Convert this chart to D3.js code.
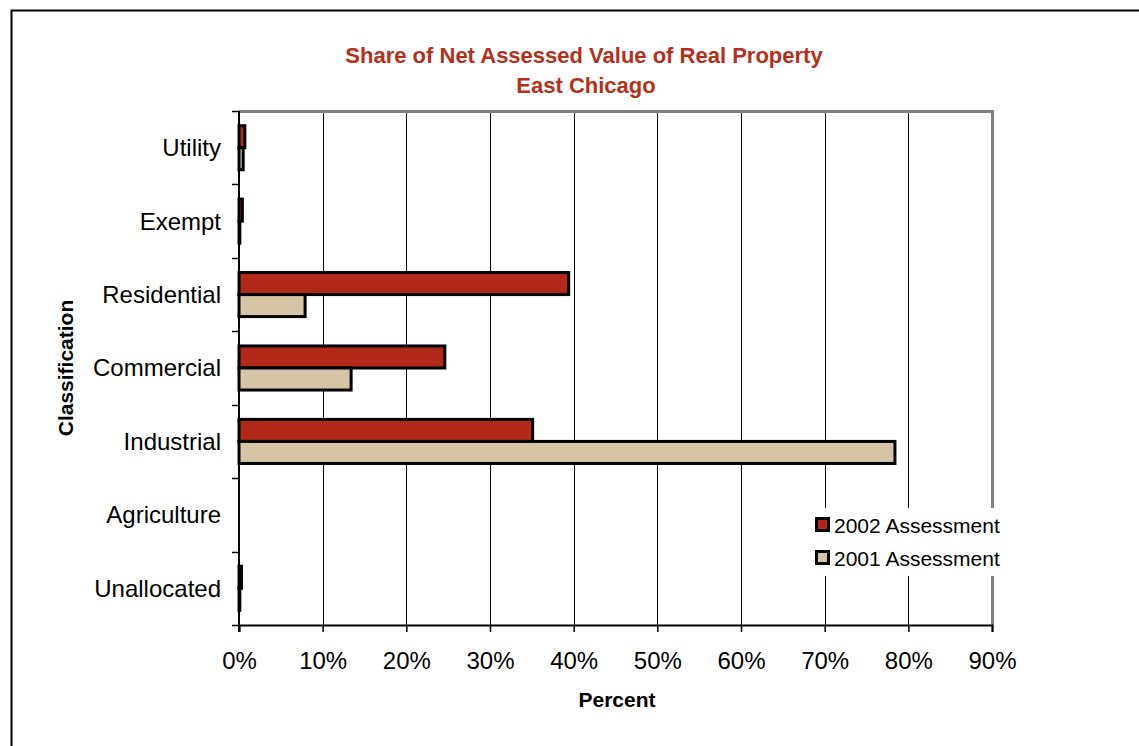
<!DOCTYPE html>
<html>
<head>
<meta charset="utf-8">
<script src="https://cdn.jsdelivr.net/npm/d3@7"></script>
<style>
  body { margin: 0; background: #fff; }
  text { font-family: "Liberation Sans", Arial, sans-serif; }
</style>
</head>
<body>
<div id="chart"></div>
<script>
// data
const CATEGORIES = ["Utility", "Exempt", "Residential", "Commercial", "Industrial", "Agriculture", "Unallocated"];
const SERIES = ["2002 Assessment", "2001 Assessment"];
const VALUES_2002 = [0.7, 0.4, 39.4, 24.6, 35.1, 0, 0.3];
const VALUES_2001 = [0.5, 0.1, 7.9, 13.4, 78.4, 0, 0.1];
const X_TICKS = [0, 10, 20, 30, 40, 50, 60, 70, 80, 90];
const COLORS = ["#B22A17", "#D5C4A6"];

const WIDTH = 1139;
const HEIGHT = 746;
const LEFT = 239, RIGHT = 992, TOP = 111, BOTTOM = 625;

const svg = d3.select('#chart')
  .append('svg')
  .attr('width', WIDTH)
  .attr('height', HEIGHT);

// outer frame (only top and left edges show)
svg.append('rect')
  .attr('x', 11.5).attr('y', 10.5)
  .attr('width', WIDTH + 20).attr('height', HEIGHT + 20)
  .attr('fill', 'none')
  .attr('stroke', '#000')
  .attr('stroke-width', 2);

const X_SCALE = d3.scaleLinear().domain([0, 90]).range([LEFT, RIGHT]);
const Y_SCALE = d3.scaleBand()
  .domain(CATEGORIES)
  .range([TOP, BOTTOM])
  .paddingInner(0.4)
  .paddingOuter(0.2);
const SUB_SCALE = d3.scaleBand().domain(SERIES).range([0, Y_SCALE.bandwidth()]);
const Y_EDGES = d3.scaleLinear().domain([0, CATEGORIES.length]).range([TOP, BOTTOM]);

// gridlines
svg.append('g')
  .selectAll('line')
  .data(X_TICKS.slice(1, -1))
  .enter()
  .append('line')
  .attr('x1', d => Math.round(X_SCALE(d)) + 0.5)
  .attr('x2', d => Math.round(X_SCALE(d)) + 0.5)
  .attr('y1', TOP)
  .attr('y2', BOTTOM)
  .attr('stroke', '#000')
  .attr('stroke-width', 1);

// plot border top/right (grey)
svg.append('path')
  .attr('d', `M${LEFT},${TOP + 0.5}H${RIGHT + 0.5}V${BOTTOM}`)
  .attr('fill', 'none')
  .attr('stroke', '#808080')
  .attr('stroke-width', 3);

// bars
const rows = CATEGORIES.map((c, i) => ({ cat: c, vals: [VALUES_2002[i], VALUES_2001[i]] }));
const groups = svg.append('g')
  .selectAll('g')
  .data(rows)
  .enter()
  .append('g')
  .attr('transform', d => 'translate(0,' + Y_SCALE(d.cat) + ')');

groups.selectAll('rect')
  .data(d => d.vals.map((v, j) => ({ v: v, s: SERIES[j], j: j })))
  .enter()
  .filter(d => d.v > 0)
  .append('rect')
  .attr('x', X_SCALE(0))
  .attr('y', d => SUB_SCALE(d.s))
  .attr('width', d => X_SCALE(d.v) - X_SCALE(0))
  .attr('height', SUB_SCALE.bandwidth())
  .attr('fill', d => COLORS[d.j])
  .attr('stroke', '#000')
  .attr('stroke-width', 3);

// x axis
const X_AXIS = d3.axisBottom(X_SCALE)
  .tickValues(X_TICKS)
  .tickSize(7)
  .tickFormat(d => d + '%');
const gx = svg.append('g')
  .attr('transform', 'translate(0,' + BOTTOM + ')')
  .call(X_AXIS);
gx.select('.domain').attr('stroke', '#000').attr('stroke-width', 2);
gx.selectAll('.tick line').attr('stroke', '#000').attr('stroke-width', 1.5);
gx.selectAll('.tick text')
  .attr('font-size', 24)
  .attr('font-family', '"Liberation Sans", Arial, sans-serif')
  .attr('fill', '#000')
  .attr('dy', 0)
  .attr('y', 44);

// y axis: line + ticks at category boundaries
svg.append('line')
  .attr('x1', LEFT).attr('x2', LEFT)
  .attr('y1', TOP).attr('y2', BOTTOM + 7)
  .attr('stroke', '#000').attr('stroke-width', 2);
svg.append('g')
  .selectAll('line')
  .data(d3.range(CATEGORIES.length + 1))
  .enter()
  .append('line')
  .attr('x1', LEFT - 7).attr('x2', LEFT)
  .attr('y1', d => Math.round(Y_EDGES(d)) + 0.5)
  .attr('y2', d => Math.round(Y_EDGES(d)) + 0.5)
  .attr('stroke', '#000').attr('stroke-width', 1.5);

svg.append('g')
  .selectAll('text')
  .data(CATEGORIES)
  .enter()
  .append('text')
  .attr('x', 221)
  .attr('y', d => Y_SCALE(d) + Y_SCALE.bandwidth() / 2)
  .attr('dy', '0.35em')
  .attr('text-anchor', 'end')
  .attr('font-size', 24)
  .text(d => d);

// titles
svg.append('text')
  .attr('x', 584).attr('y', 63)
  .attr('text-anchor', 'middle')
  .attr('font-size', 22).attr('font-weight', 'bold')
  .attr('fill', '#B5301A')
  .text('Share of Net Assessed Value of Real Property');
svg.append('text')
  .attr('x', 586).attr('y', 93)
  .attr('text-anchor', 'middle')
  .attr('font-size', 22).attr('font-weight', 'bold')
  .attr('fill', '#B5301A')
  .text('East Chicago');

svg.append('text')
  .attr('x', 617).attr('y', 707)
  .attr('text-anchor', 'middle')
  .attr('font-size', 21).attr('font-weight', 'bold')
  .text('Percent');

svg.append('text')
  .attr('transform', 'translate(73,368) rotate(-90)')
  .attr('text-anchor', 'middle')
  .attr('font-size', 21).attr('font-weight', 'bold')
  .text('Classification');

// legend
const legend = svg.append('g').attr('transform', 'translate(808,508)');
legend.append('rect')
  .attr('width', 197).attr('height', 68)
  .attr('fill', '#fff');
const items = legend.selectAll('g.item')
  .data(SERIES)
  .enter()
  .append('g')
  .attr('class', 'item')
  .attr('transform', (d, i) => 'translate(0,' + (17 + i * 33) + ')');
items.append('rect')
  .attr('x', 8.5).attr('y', -6.5)
  .attr('width', 12).attr('height', 12)
  .attr('fill', (d, i) => COLORS[i])
  .attr('stroke', '#000').attr('stroke-width', 3);
items.append('text')
  .attr('x', 26).attr('y', 0)
  .attr('dy', '0.36em')
  .attr('font-size', 21)
  .text(d => d);
</script>
</body>
</html>
